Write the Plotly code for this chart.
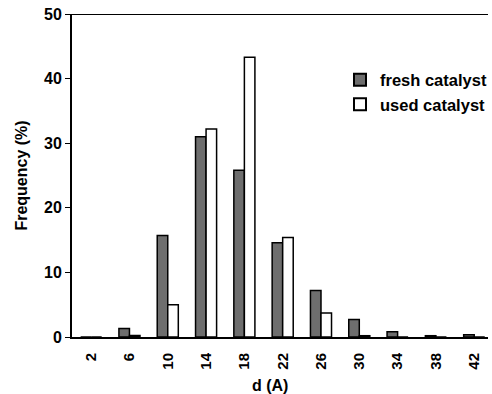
import plotly.graph_objects as go

categories = ["2", "6", "10", "14", "18", "22", "26", "30", "34", "38", "42"]
fresh = [0, 1.3, 15.7, 31.0, 25.8, 14.6, 7.2, 2.7, 0.8, 0.2, 0.35]
used = [0, 0.25, 5.0, 32.2, 43.3, 15.4, 3.7, 0.2, 0, 0, 0]
y_ticks = [0, 10, 20, 30, 40, 50]

FONT = "Liberation Sans, Arial, sans-serif"

fig = go.Figure()
fig.add_trace(go.Bar(x=categories, y=fresh, name="fresh catalyst",
                     marker=dict(color="#6e6e6e", line=dict(color="black", width=1.5))))
fig.add_trace(go.Bar(x=categories, y=used, name="used catalyst",
                     marker=dict(color="white", line=dict(color="black", width=1.5))))

fig.update_layout(
    width=492, height=394,
    margin=dict(l=72, r=0, t=14, b=57),
    paper_bgcolor="white", plot_bgcolor="white",
    barmode="group", bargap=0.45, bargroupgap=0,
    font=dict(family=FONT, size=15, color="black", weight="bold"),
    showlegend=True,
    legend=dict(x=0.645, y=0.85, xanchor="left", yanchor="top",
                bgcolor="rgba(0,0,0,0)", font=dict(size=16.5, weight="bold"),
                itemsizing="constant", tracegroupgap=0),
    xaxis=dict(range=[-0.5, 10.36], tickangle=-90, showline=True, linecolor="black",
               linewidth=2, ticks="", showgrid=False, zeroline=False,
               ticklabelstandoff=8,
               tickfont=dict(size=15, weight="bold")),
    yaxis=dict(range=[0, 50], tickvals=y_ticks, showline=True, linecolor="black",
               linewidth=2, ticks="outside", ticklen=5, tickwidth=1, tickcolor="black",
               showgrid=False, zeroline=False,
               title=dict(text="Frequency (%)", font=dict(size=16, weight="bold"), standoff=12),
               tickfont=dict(size=16, weight="bold")),
    shapes=[dict(type="line", xref="paper", yref="y", x0=0, x1=1, y0=50, y1=50,
                 line=dict(color="black", width=2))],
    annotations=[dict(text="d (A)", xref="paper", yref="paper", x=0.476, y=-0.149,
                      xanchor="center", yanchor="middle", showarrow=False,
                      font=dict(size=16, weight="bold"))],
)

fig.write_html("out.html")
